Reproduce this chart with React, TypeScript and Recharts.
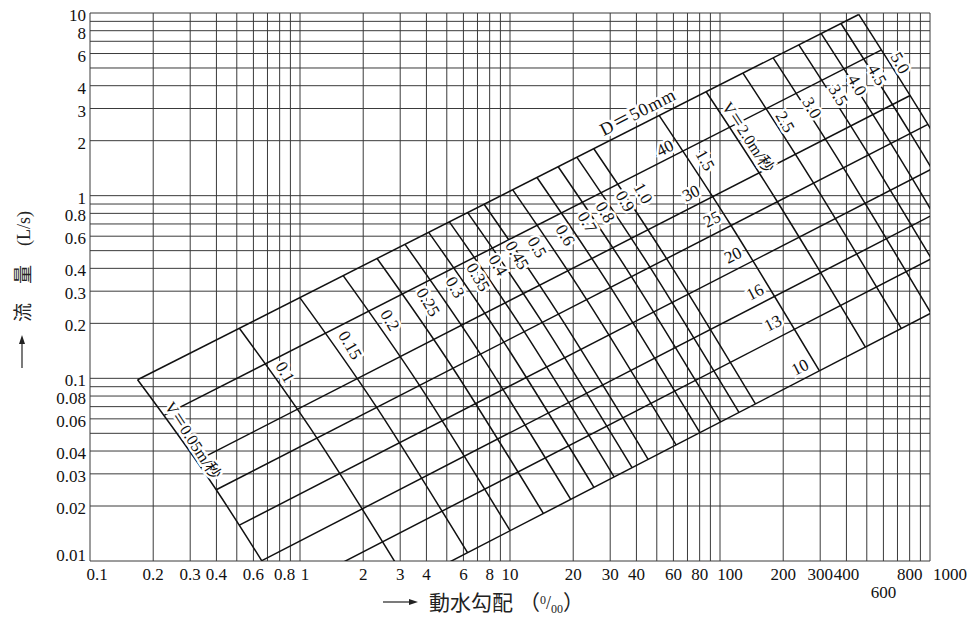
import React from 'react';
import { LineChart, Line, XAxis, YAxis, ReferenceLine, ReferenceDot } from 'recharts';

// ---- axes / grid values ----
const X_GRID = [0.1, 0.2, 0.3, 0.4, 0.5, 0.6, 0.7, 0.8, 0.9, 1, 2, 3, 4, 5, 6, 7, 8, 9, 10, 20, 30, 40, 50, 60, 70, 80, 90, 100, 200, 300, 400, 500, 600, 700, 800, 900, 1000];
const Y_GRID = [0.01, 0.02, 0.03, 0.04, 0.05, 0.06, 0.07, 0.08, 0.09, 0.1, 0.2, 0.3, 0.4, 0.5, 0.6, 0.7, 0.8, 0.9, 1, 2, 3, 4, 5, 6, 7, 8, 9, 10];
const X_TICKS = [0.1, 0.2, 0.3, 0.4, 0.6, 0.8, 1, 2, 3, 4, 6, 8, 10, 20, 30, 40, 60, 80, 100, 200, 300, 400, 600, 800, 1000];
const Y_TICKS = [0.01, 0.02, 0.03, 0.04, 0.06, 0.08, 0.1, 0.2, 0.3, 0.4, 0.6, 0.8, 1, 2, 3, 4, 6, 8, 10];

// ---- velocity lines (m/s): gradient (‰) and flow (L/s) where they cross D=50, D=25, D=10 ----
const velocities = [0.05, 0.1, 0.15, 0.2, 0.25, 0.3, 0.35, 0.4, 0.45, 0.5, 0.6, 0.7, 0.8, 0.9, 1.0, 1.5, 2.0, 2.5, 3.0, 3.5, 4.0, 4.5, 5.0];
const gradAtD50 = [0.1685, 0.5143, 0.998, 1.605, 2.328, 3.162, 4.101, 5.143, 6.286, 7.527, 10.30, 13.44, 16.96, 20.83, 25.06, 51.34, 85.93, 128.6, 179.1, 237.4, 303.3, 376.8, 457.8];
const flowAtD50 = [0.0982, 0.188, 0.2766, 0.3649, 0.4531, 0.5415, 0.630, 0.7188, 0.8081, 0.8974, 1.077, 1.258, 1.440, 1.623, 1.808, 2.745, 3.705, 4.686, 5.684, 6.697, 7.723, 8.764, 9.817];
const gradAtD25 = [0.3991, 1.204, 2.318, 3.707, 5.350, 7.235, 9.350, 11.69, 14.25, 17.02, 23.17, 30.14, 37.88, 46.40, 55.66, 112.9, 187.6, 279.1, 387.0, 511.1, 651.0, 806.6, 977.6];
const flowAtD25 = [0.02454, 0.0471, 0.06932, 0.09143, 0.1136, 0.1357, 0.1579, 0.1801, 0.2024, 0.2247, 0.2697, 0.3149, 0.3605, 0.4063, 0.4523, 0.6865, 0.9264, 1.171, 1.421, 1.674, 1.931, 2.191, 2.454];
const gradAtD10 = [1.091, 3.273, 6.279, 10.01, 14.42, 19.45, 25.10, 31.33, 38.13, 45.48, 61.80, 80.22, 100.7, 123.1, 147.5, 297.4, 492.4, 730.6, 1011, 1332, 1694, 2096, 2537];
const flowAtD10 = [0.003927, 0.007544, 0.01111, 0.01466, 0.0182, 0.02175, 0.02531, 0.02887, 0.03243, 0.03601, 0.04321, 0.05046, 0.05775, 0.0651, 0.07244, 0.1099, 0.1483, 0.1874, 0.2273, 0.2678, 0.3089, 0.3505, 0.3927];

// ---- diameter lines (mm): from V=0.05 to V=5.0 ----
const diameters = [50, 40, 30, 25, 20, 16, 13, 10];
const gradStart = [0.1685, 0.2262, 0.3222, 0.3991, 0.5143, 0.6584, 0.8247, 1.091];
const flowStart = [0.0982, 0.06283, 0.03534, 0.02454, 0.01571, 0.01005, 0.006637, 0.003927];
const gradEnd = [457.8, 587.8, 804.4, 977.6, 1238, 1562, 1937, 2537];
const flowEnd = [9.817, 6.283, 3.534, 2.454, 1.571, 1.005, 0.6637, 0.3927];

// ---- annotation texts anchored in data coordinates ----
const diameterLabels = [
  { text: 'D＝50mm', i: 40.7, q: 2.87 },
  { text: '40', i: 54.7, q: 1.82 },
  { text: '30', i: 72.8, q: 1.03 },
  { text: '25', i: 91.6, q: 0.743 },
  { text: '20', i: 115.3, q: 0.472 },
  { text: '16', i: 146.8, q: 0.296 },
  { text: '13', i: 178.7, q: 0.2 },
  { text: '10', i: 240.4, q: 0.1149 },
];
const velocityLabels = [
  { text: 'V＝0.05m/秒', i: 0.309, q: 0.0457 },
  { text: '0.1', i: 0.848, q: 0.108 },
  { text: '0.15', i: 1.73, q: 0.152 },
  { text: '0.2', i: 2.68, q: 0.208 },
  { text: '0.25', i: 4.07, q: 0.261 },
  { text: '0.3', i: 5.47, q: 0.315 },
  { text: '0.35', i: 7.04, q: 0.358 },
  { text: '0.4', i: 8.77, q: 0.416 },
  { text: '0.45', i: 10.8, q: 0.472 },
  { text: '0.5', i: 13.45, q: 0.522 },
  { text: '0.6', i: 18.3, q: 0.608 },
  { text: '0.7', i: 23.3, q: 0.716 },
  { text: '0.8', i: 28.4, q: 0.812 },
  { text: '0.9', i: 35.3, q: 0.933 },
  { text: '1.0', i: 43.0, q: 1.032 },
  { text: '1.5', i: 84.8, q: 1.565 },
  { text: 'V＝2.0m/秒', i: 136, q: 2.09 },
  { text: '2.5', i: 204, q: 2.53 },
  { text: '3.0', i: 274, q: 3.02 },
  { text: '3.5', i: 365, q: 3.55 },
  { text: '4.0', i: 449, q: 4.03 },
  { text: '4.5', i: 559, q: 4.58 },
  { text: '5.0', i: 720, q: 5.32 },
];

const SERIF = "'Liberation Serif', 'DejaVu Serif', 'Noto Sans CJK JP', serif";
const CJK = "'Noto Sans CJK JP', 'Noto Sans CJK SC', sans-serif";

const X_SHIFT: Record<string, number> = { '0.1': 7, '0.8': 5, '1': 5, '100': 10, '1000': 20 };

const XTick = (props: any) => {
  const { x, y, payload } = props;
  const v = payload.value;
  const dx = X_SHIFT[String(v)] || 0;
  const dy = v === 600 ? 37 : 19;
  return (
    <text x={x + dx} y={y + dy} textAnchor="middle" fontFamily={SERIF} fontSize={17} fill="#111">
      {String(v)}
    </text>
  );
};

const YTick = (props: any) => {
  const { x, y, payload } = props;
  const v = payload.value;
  const dy = v === 0.01 ? 0 : 8;
  return (
    <text x={x - 4} y={y + dy} textAnchor="end" fontFamily={SERIF} fontSize={17} fill="#111">
      {String(v)}
    </text>
  );
};

const makeLabel = (text: string, angle: number, size: number, spacing: number) => (p: any) => {
  const { cx, cy } = p;
  if (cx == null || cy == null) return <g />;
  return (
    <text
      x={cx}
      y={cy}
      transform={`rotate(${angle} ${cx} ${cy})`}
      textAnchor="middle"
      dominantBaseline="central"
      fontFamily={SERIF}
      fontSize={size}
      letterSpacing={spacing}
      fill="#111"
      stroke="#fff"
      strokeWidth={5}
      paintOrder="stroke"
      style={{ paintOrder: 'stroke' }}
    >
      {text}
    </text>
  );
};

export default function App() {
  const vSeries = velocities.map((v, k) => ({
    v,
    pts: [
      { i: gradAtD50[k], q: flowAtD50[k] },
      { i: gradAtD25[k], q: flowAtD25[k] },
      { i: gradAtD10[k], q: flowAtD10[k] },
    ],
  }));
  const dSeries = diameters.map((d, k) => ({
    d,
    pts: [
      { i: gradStart[k], q: flowStart[k] },
      { i: gradEnd[k], q: flowEnd[k] },
    ],
  }));

  return (
    <div style={{ position: 'relative', width: 979, height: 624, background: '#fff' }}>
      <style>{'body{margin:0;background:#fff}'}</style>
      <LineChart width={979} height={624} margin={{ top: 13, right: 49, bottom: 3, left: 0 }}>
        <XAxis
          dataKey="i"
          type="number"
          scale="log"
          domain={[0.1, 1000]}
          allowDataOverflow
          ticks={X_TICKS}
          interval={0}
          tick={<XTick />}
          tickLine={false}
          axisLine={false}
          tickSize={0}
          tickMargin={0}
          height={60}
        />
        <YAxis
          type="number"
          scale="log"
          domain={[0.01, 10]}
          allowDataOverflow
          ticks={Y_TICKS}
          interval={0}
          tick={<YTick />}
          tickLine={false}
          axisLine={false}
          tickSize={0}
          tickMargin={0}
          width={90}
        />
        {X_GRID.map((v) => (
          <ReferenceLine key={'gx' + v} x={v} stroke="#3a3a3a" strokeWidth={1} />
        ))}
        {Y_GRID.map((v) => (
          <ReferenceLine key={'gy' + v} y={v} stroke="#3a3a3a" strokeWidth={1} />
        ))}
        {dSeries.map((s) => (
          <Line
            key={'d' + s.d}
            data={s.pts}
            dataKey="q"
            type="linear"
            stroke="#111"
            strokeWidth={1.5}
            dot={false}
            activeDot={false}
            isAnimationActive={false}
          />
        ))}
        {vSeries.map((s) => (
          <Line
            key={'v' + s.v}
            data={s.pts}
            dataKey="q"
            type="natural"
            stroke="#111"
            strokeWidth={1.5}
            dot={false}
            activeDot={false}
            isAnimationActive={false}
          />
        ))}
        {diameterLabels.map((l) => (
          <ReferenceDot
            key={'dl' + l.text}
            x={l.i}
            y={l.q}
            r={0}
            zIndex={2000}
            shape={makeLabel(l.text, -27, l.text.length > 3 ? 18 : 17, l.text.length > 3 ? 1 : 0)}
          />
        ))}
        {velocityLabels.map((l) => (
          <ReferenceDot
            key={'vl' + l.text}
            x={l.i}
            y={l.q}
            r={0}
            zIndex={2000}
            shape={makeLabel(l.text, l.text.startsWith('V') ? 57 : 60, l.text.startsWith('V') ? 16 : 17, 0)}
          />
        ))}
      </LineChart>
      <svg width={979} height={624} style={{ position: 'absolute', left: 0, top: 0, pointerEvents: 'none' }}>
        {/* y-axis title */}
        <line x1={22} y1={368} x2={22} y2={342} stroke="#222" strokeWidth={1.2} />
        <path d="M22,335 L19,344 L25,344 Z" fill="#222" />
        <text x={30} y={322} transform="rotate(-90 30 322)" fontFamily={CJK} fontSize={19} fill="#222">
          流　量　<tspan fontFamily={SERIF} fontSize={18}>(L/s)</tspan>
        </text>
        {/* x-axis title */}
        <line x1={383} y1={602} x2={410} y2={602} stroke="#222" strokeWidth={1.2} />
        <path d="M418,602 L409,599 L409,605 Z" fill="#222" />
        <text x={429} y={610} fontFamily={CJK} fontSize={21} fill="#222">
          動水勾配
        </text>
        <text x={519} y={610} fontFamily={CJK} fontSize={21} fill="#222">
          （<tspan fontFamily={SERIF} fontSize={12} dy={-6}>0</tspan>
          <tspan fontFamily={SERIF} fontSize={18} dy={5}>/</tspan>
          <tspan fontFamily={SERIF} fontSize={12} dy={4}>00</tspan>
          <tspan dy={-3}>）</tspan>
        </text>
      </svg>
    </div>
  );
}
